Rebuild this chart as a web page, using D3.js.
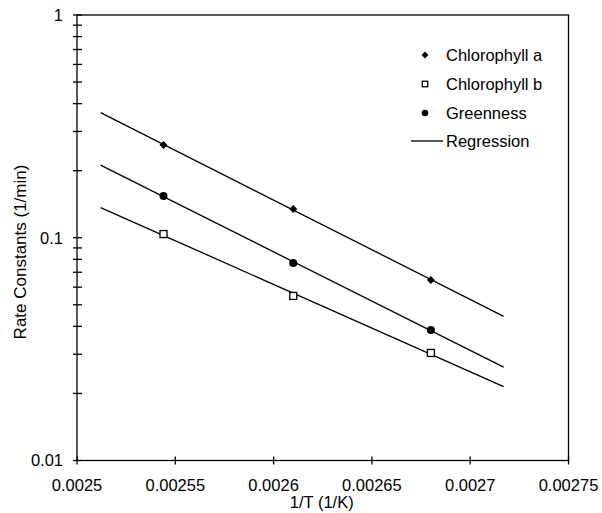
<!DOCTYPE html>
<html>
<head>
<meta charset="utf-8">
<script src="https://cdn.jsdelivr.net/npm/d3@7"></script>
<style>
  html, body { margin: 0; padding: 0; background: #fff; }
  svg { display: block; font-family: "Liberation Sans", Arial, sans-serif; }
</style>
</head>
<body>
<svg id="chart" width="602" height="513"></svg>
<script>
// Reciprocal temperature of each run (1/K)
const invTemp = [0.002544, 0.002610, 0.002680];
// First-order rate constants (1/min)
const chlA = [0.261, 0.1346, 0.0646];
const chlB = [0.1039, 0.0548, 0.0304];
const greenness = [0.154, 0.0770, 0.0385];
// Span over which the fitted lines are drawn
const fitRange = [0.002512, 0.002717];
// Axis ticks
const xTicks = [0.0025, 0.00255, 0.0026, 0.00265, 0.0027, 0.00275];
const xTickLabels = ["0.0025", "0.00255", "0.0026", "0.00265", "0.0027", "0.00275"];
const yMajor = [0.01, 0.1, 1];
const yMajorLabels = ["0.01", "0.1", "1"];
const legendLabels = ["Chlorophyll a", "Chlorophyll b", "Greenness", "Regression"];

const W = 602, H = 513;
const margin = { left: 77, right: 33.5, top: 15, bottom: 52.5 };
const iw = W - margin.left - margin.right;
const ih = H - margin.top - margin.bottom;

const svg = d3.select("#chart");
const g = svg.append("g").attr("transform", `translate(${margin.left},${margin.top})`);

const x = d3.scaleLinear().domain([0.0025, 0.00275]).range([0, iw]);
const y = d3.scaleLog().domain([0.01, 1]).range([ih, 0]);

const fontSize = 16.5;

// Minor ticks 2..9 in each decade
const yMinor = [];
for (let d = 0.01; d < 1; d *= 10) {
  for (let k = 2; k <= 9; k++) yMinor.push(+(d * k).toPrecision(3));
}

// Frame
g.append("rect")
  .attr("x", 0).attr("y", 0).attr("width", iw).attr("height", ih)
  .attr("fill", "none").attr("stroke", "#000").attr("stroke-width", 1.3);

// X axis ticks (crossing the axis line)
g.append("g").selectAll("line").data(xTicks).join("line")
  .attr("x1", d => x(d)).attr("x2", d => x(d))
  .attr("y1", ih - 4).attr("y2", ih + 4)
  .attr("stroke", "#000").attr("stroke-width", 1.3);

g.append("g").selectAll("text").data(xTicks).join("text")
  .attr("x", d => x(d)).attr("y", ih + 30)
  .attr("text-anchor", "middle")
  .attr("font-size", fontSize)
  .text((d, i) => xTickLabels[i]);

// Y axis ticks (major and minor)
g.append("g").selectAll("line").data(yMajor.concat(yMinor)).join("line")
  .attr("x1", -4).attr("x2", 5)
  .attr("y1", d => y(d)).attr("y2", d => y(d))
  .attr("stroke", "#000").attr("stroke-width", 1.3);

g.append("g").selectAll("text").data(yMajor).join("text")
  .attr("x", -14).attr("y", d => y(d))
  .attr("dy", "0.35em")
  .attr("text-anchor", "end")
  .attr("font-size", fontSize)
  .text((d, i) => yMajorLabels[i]);

// Axis titles
svg.append("text")
  .attr("x", margin.left + x(0.002625) - 1).attr("y", H - 5)
  .attr("text-anchor", "middle").attr("font-size", fontSize)
  .text("1/T (1/K)");

svg.append("text")
  .attr("transform", `translate(26,${252}) rotate(-90)`)
  .attr("text-anchor", "middle").attr("font-size", 17)
  .text("Rate Constants (1/min)");

// Least-squares fit of log10(k) against 1/T
function fitLine(xs, ks) {
  const ls = ks.map(Math.log10);
  const mx = d3.mean(xs), my = d3.mean(ls);
  const b = d3.sum(xs, (v, i) => (v - mx) * (ls[i] - my)) / d3.sum(xs, v => (v - mx) ** 2);
  const a = my - b * mx;
  return fitRange.map(v => [v, Math.pow(10, a + b * v)]);
}

const series = [
  { name: "a", values: chlA },
  { name: "b", values: chlB },
  { name: "g", values: greenness }
];

const line = d3.line().x(d => x(d[0])).y(d => y(d[1]));

g.append("g").selectAll("path").data(series).join("path")
  .attr("d", s => line(fitLine(invTemp, s.values)))
  .attr("fill", "none").attr("stroke", "#000").attr("stroke-width", 1.3);

// Marker drawing helpers
function diamond(sel, cx, cy, r) {
  sel.append("path")
    .attr("d", `M${cx},${cy - r}L${cx + r},${cy}L${cx},${cy + r}L${cx - r},${cy}Z`)
    .attr("fill", "#000");
}
function square(sel, cx, cy, s) {
  sel.append("rect")
    .attr("x", cx - s / 2).attr("y", cy - s / 2).attr("width", s).attr("height", s)
    .attr("fill", "#fff").attr("stroke", "#000").attr("stroke-width", 1.3);
}
function dot(sel, cx, cy, r) {
  sel.append("circle").attr("cx", cx).attr("cy", cy).attr("r", r).attr("fill", "#000");
}

const marks = g.append("g");
invTemp.forEach((t, i) => {
  diamond(marks, x(t), y(chlA[i]), 4);
  square(marks, x(t), y(chlB[i]), 7);
  dot(marks, x(t), y(greenness[i]), 4);
});

// Legend
const lg = svg.append("g");
const lx = 425, ty = 446;
const rows = [55, 84, 113, 141];
diamond(lg, lx, rows[0], 3.5);
square(lg, lx, rows[1], 5.5);
dot(lg, lx, rows[2], 3.3);
lg.append("line").attr("x1", 411).attr("x2", 443).attr("y1", rows[3]).attr("y2", rows[3])
  .attr("stroke", "#000").attr("stroke-width", 1.3);
lg.selectAll("text").data(legendLabels).join("text")
  .attr("x", ty).attr("y", (d, i) => rows[i])
  .attr("dy", "0.35em")
  .attr("font-size", fontSize)
  .text(d => d);
</script>
</body>
</html>
